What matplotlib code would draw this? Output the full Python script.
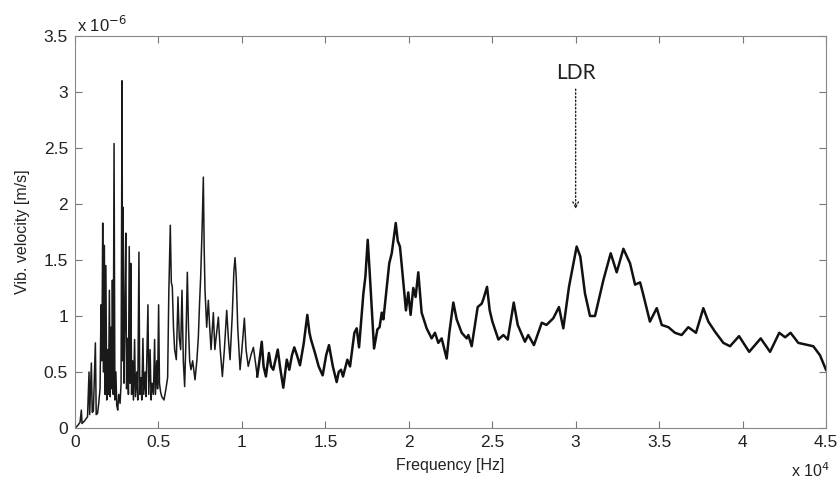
import numpy as np
import matplotlib
matplotlib.use('Agg')
import matplotlib.pyplot as plt
from matplotlib.ticker import FuncFormatter, MultipleLocator

# spectrum: frequency [Hz], velocity [x 1e-6 m/s]
freq = [0, 150, 300, 380, 420, 550, 650, 750, 840, 880, 980, 1030, 1100, 1220, 1270, 1350, 1420, 1500,
        1560, 1610, 1660, 1700, 1760, 1800, 1850, 1900, 1960, 2010, 2060, 2110, 2160, 2200, 2240, 2290,
        2340, 2390, 2450, 2500, 2560, 2620, 2700, 2760, 2820, 2850, 2880, 2930, 2980, 3040, 3090, 3150,
        3200, 3250, 3300, 3340, 3390, 3450, 3500, 3570, 3620, 3700, 3760, 3830, 3880, 3950, 4000, 4070,
        4120, 4200, 4250, 4300, 4370, 4420, 4500, 4560, 4620, 4700, 4770, 4820, 4900, 4950, 5010, 5060,
        5130, 5200, 5330, 5450, 5550, 5620, 5710, 5770, 5830, 5900, 5970, 6070, 6120, 6170, 6250, 6330,
        6410, 6490, 6570, 6650, 6730, 6800, 6870, 6950, 7050, 7190, 7300, 7390, 7460, 7530, 7620, 7690,
        7740, 7790, 7890, 7990, 8070, 8150, 8290, 8380, 8450, 8590, 8700, 8830, 8950, 9090, 9190, 9290,
        9420, 9520, 9590, 9660, 9750, 9890, 10000, 10150, 10250, 10380, 10540, 10690, 10800, 10920,
        11050, 11190, 11300, 11440, 11620, 11750, 11880, 12150, 12280, 12480, 12690, 12840, 13000, 13140,
        13300, 13480, 13700, 13920, 14050, 14140, 14380, 14600, 14840, 15050, 15220, 15450, 15680, 15800,
        15940, 16060, 16320, 16480, 16740, 16880, 17020, 17280, 17400, 17540, 17650, 17920, 18120, 18250,
        18380, 18480, 18830, 18980, 19220, 19340, 19470, 19530, 19830, 19970, 20110, 20270, 20410, 20570,
        20770, 21070, 21370, 21570, 21770, 21970, 22270, 22430, 22670, 22870, 23170, 23470, 23570, 23770,
        24130, 24370, 24470, 24690, 24850, 25010, 25370, 25670, 25930, 26290, 26530, 26960, 27160, 27500,
        27970, 28250, 28660, 29000, 29260, 29600, 30060, 30280, 30560, 30860, 31160, 31660, 32100, 32460,
        32860, 33260, 33560, 33860, 34020, 34450, 34860, 35160, 35560, 35950, 36350, 36750, 37210, 37650,
        37950, 38350, 38850, 39250, 39790, 40400, 41090, 41650, 42200, 42550, 42880, 43340, 44240, 44640,
        45000]
vel = [0.0, 0.02, 0.05, 0.16, 0.04, 0.06, 0.08, 0.1, 0.5, 0.12, 0.58, 0.14, 0.15, 0.76, 0.12, 0.13, 0.22, 0.35,
       1.1, 0.6, 1.83, 0.5, 1.63, 0.3, 1.45, 0.25, 0.7, 0.3, 1.23, 0.28, 0.9, 0.35, 1.32, 0.3,
       2.54, 0.25, 0.5, 0.2, 0.16, 0.3, 0.22, 0.4, 3.1, 0.6, 1.97, 0.4, 0.9, 1.74, 0.35, 0.8,
       0.3, 1.62, 0.4, 1.47, 0.3, 0.6, 0.25, 0.79, 0.28, 0.5, 0.25, 1.57, 0.3, 0.45, 0.25, 0.8,
       0.3, 0.5, 0.28, 0.6, 1.1, 0.3, 0.7, 0.25, 0.4, 0.3, 0.79, 0.3, 0.6, 0.35, 1.1, 0.4,
       0.32, 0.28, 0.25, 0.35, 0.45, 1.2, 1.81, 1.3, 1.26, 0.9, 0.7, 0.61, 0.9, 1.17, 0.8, 0.7,
       1.23, 0.6, 0.37, 0.8, 1.39, 0.9, 0.6, 0.52, 0.6, 0.43, 0.6, 0.81, 1.1, 1.35, 1.8, 2.24,
       1.6, 1.23, 0.9, 1.14, 0.9, 0.7, 1.03, 0.7, 0.8, 0.99, 0.7, 0.46, 0.7, 1.05, 0.8, 0.61,
       1.0, 1.4, 1.52, 1.35, 0.9, 0.52, 0.7, 0.98, 0.7, 0.55, 0.65, 0.72, 0.6, 0.46,
       0.6, 0.77, 0.55, 0.46, 0.67, 0.55, 0.52, 0.7, 0.55, 0.36, 0.61, 0.52, 0.65, 0.72,
       0.65, 0.56, 0.75, 1.01, 0.85, 0.79, 0.67, 0.55, 0.47, 0.65, 0.74, 0.55, 0.41, 0.5,
       0.52, 0.46, 0.61, 0.55, 0.85, 0.89, 0.72, 1.2, 1.35, 1.68, 1.41, 0.71, 0.88, 0.9,
       1.03, 0.97, 1.47, 1.56, 1.83, 1.67, 1.62, 1.53, 1.05, 1.21, 1.01, 1.25, 1.17, 1.39,
       1.03, 0.89, 0.8, 0.85, 0.76, 0.8, 0.62, 0.85, 1.12, 0.97, 0.85, 0.8, 0.83, 0.73,
       1.08, 1.11, 1.15, 1.26, 1.05, 0.95, 0.79, 0.83, 0.79, 1.12, 0.92, 0.77, 0.83, 0.74,
       0.94, 0.92, 0.98, 1.08, 0.89, 1.26, 1.62, 1.53, 1.2, 1.0, 1.0, 1.32, 1.56, 1.39,
       1.6, 1.47, 1.28, 1.3, 1.21, 0.95, 1.07, 0.92, 0.9, 0.85, 0.83, 0.9, 0.85, 1.07,
       0.95, 0.86, 0.76, 0.73, 0.82, 0.68, 0.8, 0.68, 0.85, 0.81, 0.85, 0.76, 0.73, 0.65,
       0.52]

ldr_freq = 30000

plt.rcParams['font.family'] = ['Liberation Sans', 'DejaVu Sans']

fig = plt.figure(figsize=(8.4, 4.84), dpi=100)
ax = fig.add_axes([0.0893, 0.1157, 0.894, 0.81])

f = np.array(freq)
v = np.array(vel) * 1e-6
# dense low part is drawn thinner, the rest as a thick trace (they share the 10920 Hz point)
low = f <= 10920
high = f >= 10920
ax.plot(f[low], v[low], color='#1a1a1a', lw=1.1)
ax.plot(f[high], v[high], color='#111111', lw=1.8)

ax.set_xlim(0, 45000)
ax.set_ylim(0, 3.5e-6)
ax.xaxis.set_major_locator(MultipleLocator(5000))
ax.yaxis.set_major_locator(MultipleLocator(0.5e-6))
ax.xaxis.set_major_formatter(FuncFormatter(lambda x, p: '%g' % round(x / 1e4, 2)))
ax.yaxis.set_major_formatter(FuncFormatter(lambda y, p: '%g' % round(y / 1e-6, 2)))
ax.tick_params(direction='in', top=True, right=True, length=5, color='#777777',
               labelsize=12.5, labelcolor='#222222', pad=5)
for s in ax.spines.values():
    s.set_color('#888888')

ax.set_xlabel('Frequency [Hz]', fontsize=11.5, color='#222222', labelpad=6)
ax.set_ylabel('Vib. velocity [m/s]', fontsize=11.5, color='#222222', labelpad=10)

ax.text(0.003, 1.003, r'x 10$^{-6}$', transform=ax.transAxes, fontsize=12,
        color='#222222', ha='left', va='bottom')
ax.text(1.005, -0.085, r'x 10$^{4}$', transform=ax.transAxes, fontsize=11.5,
        color='#222222', ha='right', va='top')

# LDR marker
ax.annotate('', xy=(ldr_freq, 1.93e-6), xytext=(ldr_freq, 3.05e-6),
            arrowprops=dict(arrowstyle='->', linestyle=':', color='#222222', lw=1.0))
ax.text(ldr_freq, 3.08e-6, 'LDR', ha='center', va='bottom', fontsize=15,
        family=['Lato', 'DejaVu Sans'], color='#222222')

fig.savefig('out.png', dpi=100)
